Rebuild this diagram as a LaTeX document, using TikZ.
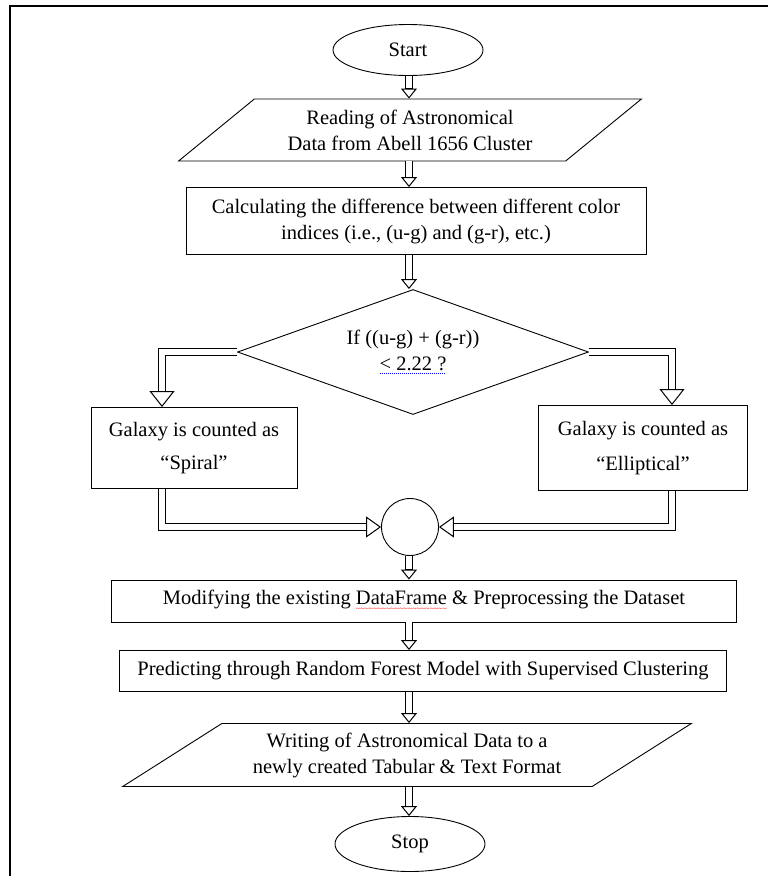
\documentclass[tikz,border=0pt]{standalone}
\usepackage{fontspec}
\setmainfont{Liberation Serif}
\usetikzlibrary{shapes.geometric,arrows.meta}
\newcommand\redwave[1]{\setbox0\hbox{#1}\rlap{\textcolor{red}{\leaders\hbox{\raisebox{-7pt}{\fontsize{8}{8}\selectfont\char"7E}}\hskip\wd0}}\box0\relax}
\newcommand\bluedots[1]{\setbox0\hbox{#1}\rlap{\textcolor{blue}{\leaders\hbox to 2pt{\hss\rule[-3pt]{1pt}{0.7pt}\hss}\hskip\wd0}}\box0\relax}
\begin{document}
\begin{tikzpicture}[x=1pt,y=-1pt,
    every node/.style={font=\fontsize{20.5}{26}\selectfont, align=center, inner sep=0pt},
    term/.style={draw, ellipse, minimum width=150pt, minimum height=51pt, line width=0.9pt},
    io/.style={draw, trapezium, trapezium stretches=true, line width=0.9pt},
    proc/.style={draw, rectangle, line width=0.9pt},
    decide/.style={draw, diamond, aspect=2.8, line width=0.9pt},
    blockarrow/.style n args={3}{line width=8.4pt,
      -{Triangle[open, length=#1, width=#2, line width=1pt]},
      postaction={draw=white, line width=6pt, -, shorten >=#3}},
    flow/.style={blockarrow={10pt}{16pt}{10.5pt}},
    branch/.style={blockarrow={16pt}{25pt}{16.5pt}},
    merge/.style={blockarrow={15pt}{21pt}{15.5pt}}]
  \useasboundingbox (0,0) rectangle (768,876);
  \draw[line width=2.2pt] (10,876) -- (10,6) -- (768,6);
  \node[term] (start) at (408,50) {Start};
  \node[io, trapezium left angle=34.3, trapezium right angle=145.7,
    minimum width=463pt, minimum height=62pt] (read) at (410,130)
    {Reading of Astronomical\\Data from Abell 1656 Cluster};
  \node[proc, minimum width=460pt, minimum height=67pt] (calc) at (416,221)
    {Calculating the difference between different color\\indices (i.e., (u-g) and (g-r), etc.)};
  \node[decide, minimum width=351pt, minimum height=125pt] (test) at (413,352)
    {If ((u-g) + (g-r))\\\bluedots{< 2.22 ?}};
  \node[proc, minimum width=206pt, minimum height=81pt] (spiral) at (194,448)
    {Galaxy is counted as\\[7pt]“Spiral”};
  \node[proc, minimum width=209pt, minimum height=85pt] (ellip) at (643,448)
    {Galaxy is counted as\\[9pt]“Elliptical”};
  \node[draw, circle, minimum size=57pt, line width=0.9pt] (join) at (410,527) {};
  \node[proc, minimum width=625pt, minimum height=42pt] (modify) at (424,601)
    {Modifying the existing \redwave{DataFrame} \& Preprocessing the Dataset};
  \node[proc, minimum width=607pt, minimum height=41pt] (predict) at (423,671)
    {Predicting through Random Forest Model with Supervised Clustering};
  \node[io, trapezium left angle=28.5, trapezium right angle=151.5,
    minimum width=570pt, minimum height=63pt] (write) at (407,755)
    {Writing of Astronomical Data to a\\newly created Tabular \& Text Format};
  \node[term, minimum height=55pt] (stop) at (410,844) {Stop};
  \coordinate (mid) at (409,0);
  \coordinate (lcol) at (162,0);
  \coordinate (rcol) at (672,0);
  \draw[flow] (mid |- start.south) -- (mid |- read.north);
  \draw[flow] (mid |- read.south) -- (mid |- calc.north);
  \draw[flow] (mid |- calc.south) -- (mid |- test.north);
  \draw[flow] (mid |- join.south) -- (mid |- modify.north);
  \draw[flow] (mid |- modify.south) -- (mid |- predict.north);
  \draw[flow] (mid |- predict.south) -- (mid |- write.north);
  \draw[flow] (mid |- write.south) -- (mid |- stop.north);
  \draw[branch] (test.west) -| (lcol |- spiral.north);
  \draw[branch] (test.east) -| (rcol |- ellip.north);
  \draw[merge] (lcol |- spiral.south) |- (join.west);
  \draw[merge] (rcol |- ellip.south) |- (join.east);
\end{tikzpicture}
\end{document}
